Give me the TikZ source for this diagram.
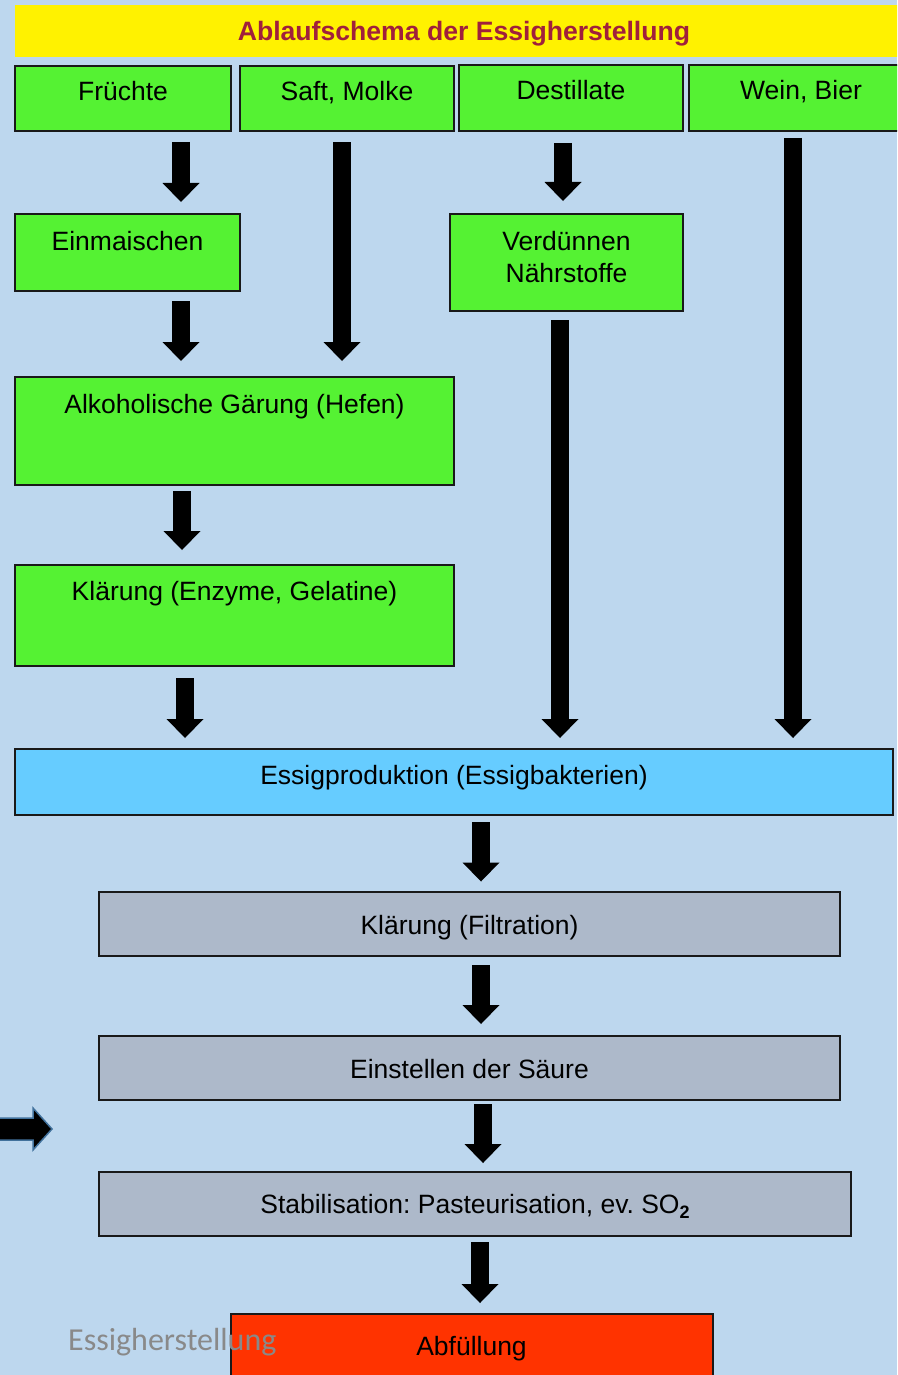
\documentclass[tikz,border=0pt]{standalone}
\usepackage{fontspec}
\setmainfont{Liberation Sans}
\newfontfamily\calfont{Carlito}
\usetikzlibrary{arrows.meta}
\frenchspacing
\definecolor{bgblue}{HTML}{BDD7EE}
\definecolor{boxgreen}{HTML}{55F233}
\definecolor{boxblue}{HTML}{66CCFF}
\definecolor{boxgray}{HTML}{ADB9CA}
\definecolor{boxred}{HTML}{FF3300}
\definecolor{titlered}{HTML}{A0203C}
\definecolor{footgray}{HTML}{898989}
\definecolor{arrowedge}{HTML}{41719C}
\tikzset{
  box/.style={draw=black!90, line width=1.3pt, inner sep=0pt, outer sep=0pt},
  greenbox/.style={box, fill=boxgreen},
  bluebox/.style={box, fill=boxblue},
  graybox/.style={box, fill=boxgray},
  redbox/.style={box, fill=boxred},
  txt/.style={font=\fontsize{26.5}{32}\selectfont\frenchspacing, inner sep=0pt, anchor=base},
  flow/.style={line width=18pt, draw=black, -{Triangle[width=37pt,length=19pt,line width=0pt]}}
}
\begin{document}
\begin{tikzpicture}[x=1pt,y=-1pt]
\fill[bgblue] (0,0) rectangle (897,1375);
\useasboundingbox (0,0) rectangle (897,1375);
\clip (0,0) rectangle (897,1375);

% title bar
\node[fill=yellow, inner sep=0pt, outer sep=0pt, minimum width=890pt, minimum height=52pt, anchor=north west] (bar) at (15,5) {};
\node[txt, font=\fontsize{26.6}{30}\selectfont\bfseries, text=titlered] (title) at (464,41) {Ablaufschema der Essigherstellung};

% top row
\node[greenbox, minimum width=216pt, minimum height=65pt] (fr) at (123,98.5) {};
\node[greenbox, minimum width=214pt, minimum height=65pt] (saft) at (347,98.5) {};
\node[greenbox, minimum width=224pt, minimum height=66pt] (des) at (571,98) {};
\node[greenbox, minimum width=224pt, minimum height=66pt] (wein) at (801,98) {};
\node[txt] (frt) at (123,101) {Früchte};
\node[txt] (saftt) at (347,101) {Saft, Molke};
\node[txt] (dest) at (571,100) {Destillate};
\node[txt] (weint) at (801,100) {Wein, Bier};

% second row
\node[greenbox, minimum width=225pt, minimum height=77pt] (ein) at (127.5,252.5) {};
\node[greenbox, minimum width=233pt, minimum height=97pt] (verd) at (566.5,262.5) {};
\node[txt] (eint) at (127.5,250) {Einmaischen};
\node[txt] (verdt1) at (566.5,250) {Verdünnen};
\node[txt] (verdt2) at (566.5,282) {Nährstoffe};

% fermentation and clarification
\node[greenbox, minimum width=439pt, minimum height=108pt] (alk) at (234.5,431) {};
\node[txt] (alkt) at (234.5,413) {Alkoholische Gärung (Hefen)};
\node[greenbox, minimum width=439pt, minimum height=101pt] (kl) at (234.5,615.5) {};
\node[txt] (klt) at (234.5,600) {Klärung (Enzyme, Gelatine)};

% vinegar production
\node[bluebox, minimum width=878pt, minimum height=66pt] (essig) at (454,782) {};
\node[txt] (essigt) at (454,784) {Essigproduktion (Essigbakterien)};

% gray steps
\node[graybox, minimum width=741pt, minimum height=64pt] (filt) at (469.5,924) {};
\node[txt] (filtt) at (469.5,934) {Klärung (Filtration)};
\node[graybox, minimum width=741pt, minimum height=64pt] (saeure) at (469.5,1068) {};
\node[txt] (saeuret) at (469.5,1078) {Einstellen der Säure};
\node[graybox, minimum width=752pt, minimum height=64pt] (stab) at (475,1204) {};
\node[txt] (stabt) at (475,1213) {Stabilisation: Pasteurisation, ev. SO\raisebox{-5pt}{\fontsize{18}{20}\selectfont\bfseries 2}};

% bottling
\node[redbox, minimum width=482pt, minimum height=76pt] (abf) at (472,1352) {};
\node[txt] (abft) at (471.5,1355) {Abfüllung};
\node[inner sep=0pt, anchor=base west, text=footgray, font=\calfont\fontsize{32}{38}\selectfont] (foot) at (68,1350) {Essigherstellung};

% arrow columns
\coordinate (c1) at (181,0);
\coordinate (c2) at (342,0);
\coordinate (c3) at (563,0);
\coordinate (c4) at (560,0);
\coordinate (c5) at (793,0);
\coordinate (c6) at (182,0);
\coordinate (c7) at (185,0);
\coordinate (c8) at (481,0);
\coordinate (c9) at (483,0);
\coordinate (c10) at (480,0);

\draw[flow, shorten <=11pt, shorten >=12pt] (c1 |- fr.south) -- (c1 |- ein.north);
\draw[flow, shorten <=10pt, shorten >=16pt] (c1 |- ein.south) -- (c1 |- alk.north);
\draw[flow, shorten <=11.5pt, shorten >=16pt] (c2 |- saft.south) -- (c2 |- alk.north);
\draw[flow, shorten <=12pt, shorten >=13pt] (c3 |- des.south) -- (c3 |- verd.north);
\draw[flow, shorten <=9pt, shorten >=11pt] (c4 |- verd.south) -- (c4 |- essig.north);
\draw[flow, shorten <=7pt, shorten >=11pt] (c5 |- wein.south) -- (c5 |- essig.north);
\draw[flow, shorten <=6pt, shorten >=15pt] (c6 |- alk.south) -- (c6 |- kl.north);
\draw[flow, shorten <=12pt, shorten >=11pt] (c7 |- kl.south) -- (c7 |- essig.north);
\draw[flow, shorten <=7pt, shorten >=10.5pt] (c8 |- essig.south) -- (c8 |- filt.north);
\draw[flow, shorten <=9pt, shorten >=12pt] (c8 |- filt.south) -- (c8 |- saeure.north);
\draw[flow, shorten <=4pt, shorten >=9pt] (c9 |- saeure.south) -- (c9 |- stab.north);
\draw[flow, shorten <=6pt, shorten >=11pt] (c10 |- stab.south) -- (c10 |- abf.north);

% side block arrow
\fill[black, draw=arrowedge, line width=1.5pt] (-5,1118) -- (33,1118) -- (33,1108) -- (52,1129) -- (33,1150) -- (33,1140) -- (-5,1140) -- cycle;
\end{tikzpicture}
\end{document}
